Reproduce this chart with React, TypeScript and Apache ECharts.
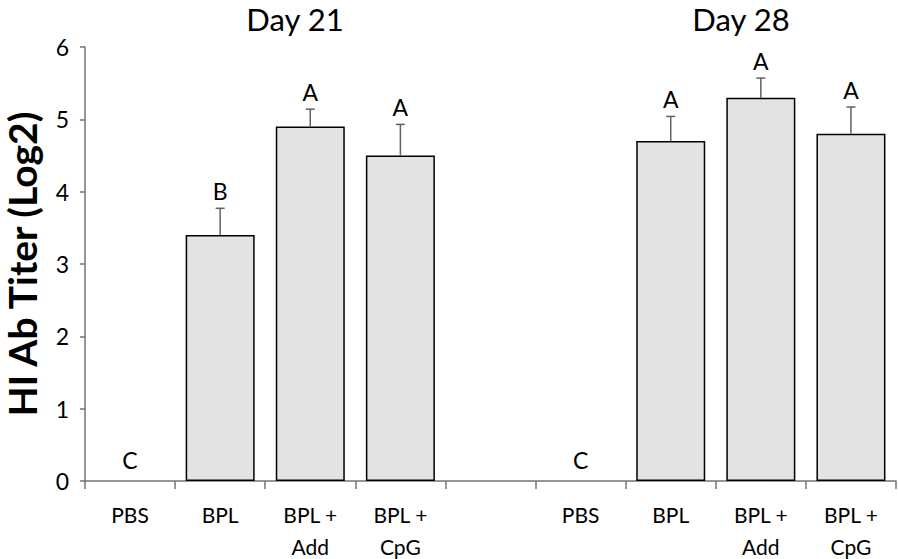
import React, { useEffect, useRef } from "react";
import * as echarts from "echarts";

const groups = ["PBS", "BPL", "BPL +\nAdd", "BPL +\nCpG"];
const day21Means = [0, 3.4, 4.9, 4.5];
const day21Errors = [0, 0.37, 0.24, 0.43];
const day21Letters = ["C", "B", "A", "A"];
const day28Means = [0, 4.7, 5.3, 4.8];
const day28Errors = [0, 0.34, 0.27, 0.37];
const day28Letters = ["C", "A", "A", "A"];
const dayTitles = ["Day 21", "Day 28"];
const yTicks = [0, 1, 2, 3, 4, 5, 6];

const FONT = "Lato, 'Open Sans', sans-serif";

export default function App() {
  const ref = useRef<HTMLDivElement>(null);

  useEffect(() => {
    if (!ref.current) return;
    const chart = echarts.init(ref.current, null, { renderer: "svg" });

    const categories = [...groups, "", ...groups];
    const means = [...day21Means, null, ...day28Means];
    const errors = [...day21Errors, null, ...day28Errors];
    const letters = [...day21Letters, "", ...day28Letters];

    const barData = means.map((m) => (m && m > 0 ? m : "-"));
    const errData: any[] = [];
    means.forEach((m, i) => {
      if (m === null) return;
      errData.push([i, m, errors[i], letters[i]]);
    });

    const option: any = {
      animation: false,
      backgroundColor: "#ffffff",
      grid: {
        left: 85,
        right: 2,
        top: 47,
        bottom: 78,
        containLabel: false,
        outerBoundsMode: "none",
      },
      graphic: [
        {
          type: "text",
          x: 295,
          y: 19,
          style: {
            text: dayTitles[0],
            textAlign: "center",
            textVerticalAlign: "middle",
            font: `31px ${FONT}`,
            fill: "#000",
          },
        },
        {
          type: "text",
          x: 741,
          y: 19,
          style: {
            text: dayTitles[1],
            textAlign: "center",
            textVerticalAlign: "middle",
            font: `31px ${FONT}`,
            fill: "#000",
          },
        },
      ],
      xAxis: {
        type: "category",
        data: categories,
        axisLine: { show: true, lineStyle: { color: "#747474", width: 1.5 } },
        axisTick: { show: true, interval: 0, length: 8, lineStyle: { color: "#747474", width: 1.5 } },
        axisLabel: {
          interval: 0,
          margin: 17,
          fontFamily: FONT,
          fontSize: 21,
          lineHeight: 32,
          color: "#000",
        },
        splitLine: { show: false },
      },
      yAxis: {
        type: "value",
        min: yTicks[0],
        max: yTicks[yTicks.length - 1],
        interval: 1,
        name: "HI Ab Titer (Log2)",
        nameLocation: "middle",
        nameGap: 44,
        nameTextStyle: {
          fontFamily: FONT,
          fontWeight: "bold",
          fontSize: 39,
          color: "#000",
        },
        axisLine: { show: true, lineStyle: { color: "#747474", width: 1.5 } },
        axisTick: { show: true, length: 5, lineStyle: { color: "#747474", width: 1.5 } },
        axisLabel: { margin: 16, fontFamily: FONT, fontSize: 23, color: "#000" },
        splitLine: { show: false },
      },
      series: [
        {
          type: "bar",
          data: barData,
          barWidth: 69,
          itemStyle: { color: "#e3e3e3", borderColor: "#000", borderWidth: 1.5 },
          z: 2,
        },
        {
          type: "custom",
          data: errData,
          z: 3,
          renderItem: (params: any, api: any) => {
            const idx = api.value(0);
            const mean = api.value(1);
            const err = api.value(2);
            const letter = letters[idx];
            const base = api.coord([idx, mean]);
            const top = api.coord([idx, mean + err]);
            const children: any[] = [];
            if (err > 0) {
              children.push({
                type: "line",
                shape: { x1: base[0], y1: base[1], x2: top[0], y2: top[1] },
                style: { stroke: "#606060", lineWidth: 1.5 },
              });
              children.push({
                type: "line",
                shape: { x1: top[0] - 4.5, y1: top[1], x2: top[0] + 4.5, y2: top[1] },
                style: { stroke: "#606060", lineWidth: 1.5 },
              });
            }
            const ty = err > 0 ? top[1] - 6 : base[1] - 10;
            children.push({
              type: "text",
              x: top[0],
              y: ty,
              style: {
                text: letter,
                textAlign: "center",
                textVerticalAlign: "bottom",
                font: `23px ${FONT}`,
                fill: "#000",
              },
            });
            return { type: "group", children };
          },
        },
      ],
    };

    chart.setOption(option);
    return () => chart.dispose();
  }, []);

  return (
    <div
      ref={ref}
      style={{ position: "absolute", left: 0, top: 0, width: 898, height: 559 }}
    />
  );
}
